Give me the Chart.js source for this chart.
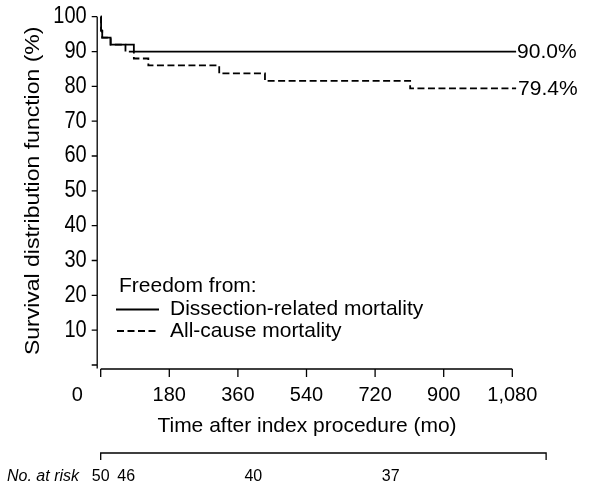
<!DOCTYPE html>
<html>
<head>
<meta charset="utf-8">
<script src="https://cdn.jsdelivr.net/npm/chart.js@4.4.1/dist/chart.umd.min.js"></script>
<style>
  html, body { margin: 0; padding: 0; background: #fff; }
  #wrap { position: relative; width: 592px; height: 487px; }
</style>
</head>
<body>
<div id="wrap"><canvas id="km"></canvas></div>
<script>
// ---- data ----
const dissectionTimes = [0, 1, 4, 26, 87, 1090];
const dissectionSurv  = [100, 96, 94, 92, 90, 90];
const allCauseTimes   = [0, 1, 4, 26, 65, 87, 125, 311, 431, 812, 1090];
const allCauseSurv    = [100, 96, 94, 92, 90, 88, 86, 83.7, 81.6, 79.4, 79.4];
const endLabels       = ["90.0%", "79.4%"];

const xTicks      = [0, 180, 360, 540, 720, 900, 1080];
const xTickLabels = ["0", "180", "360", "540", "720", "900", "1,080"];
const yTicks      = [0, 10, 20, 30, 40, 50, 60, 70, 80, 90, 100];
const yTickLabels = ["", "10", "20", "30", "40", "50", "60", "70", "80", "90", "100"];

const riskTimes  = [0, 62, 370, 703];
const riskCounts = ["50", "46", "40", "37"];

const legendTitle  = "Freedom from:";
const seriesNames  = ["Dissection-related mortality", "All-cause mortality"];
const xTitle = "Time after index procedure (mo)";
const yTitle = "Survival distribution function (%)";

const FONT = '"Liberation Sans", Arial, sans-serif';
const DASH = [7, 3.5];

const toPoints = (ts, vs) => ts.map((t, i) => ({ x: t, y: vs[i] }));

// ---- axes, legend, labels, at-risk row ----
const decorations = {
  id: "decorations",
  afterDraw(chart) {
    const ctx = chart.ctx;
    const xs = chart.scales.x;
    const ys = chart.scales.y;
    const xr = chart.scales.xr;
    const area = chart.chartArea;

    ctx.save();
    ctx.strokeStyle = "#000";
    ctx.fillStyle = "#000";
    ctx.lineWidth = 1.3;

    // y axis (offset a little left of x=0)
    const yAxisX = area.left - 3.5;
    ctx.beginPath();
    ctx.moveTo(yAxisX, ys.getPixelForValue(100));
    ctx.lineTo(yAxisX, ys.getPixelForValue(0) + 3.5);
    yTicks.forEach(v => {
      const py = ys.getPixelForValue(v);
      ctx.moveTo(yAxisX - 5.5, py);
      ctx.lineTo(yAxisX, py);
    });
    ctx.stroke();

    ctx.font = "20px " + FONT;
    ctx.textAlign = "right";
    ctx.textBaseline = "middle";
    yTicks.forEach((v, i) => {
      ctx.save();
      ctx.translate(yAxisX - 10.5, ys.getPixelForValue(v));
      ctx.scale(1, 1.15);
      ctx.fillText(yTickLabels[i], 0, 0);
      ctx.restore();
    });

    // x axis (offset a little below y=0)
    const xAxisY = area.bottom + 4;
    ctx.beginPath();
    ctx.moveTo(xs.getPixelForValue(0), xAxisY);
    ctx.lineTo(xs.getPixelForValue(1080), xAxisY);
    xTicks.forEach(v => {
      const px = xs.getPixelForValue(v);
      ctx.moveTo(px, xAxisY);
      ctx.lineTo(px, xAxisY + 8);
    });
    ctx.stroke();

    ctx.textAlign = "center";
    ctx.textBaseline = "alphabetic";
    xTicks.forEach((v, i) => {
      const shift = v === 0 ? -23.5 : 0;
      ctx.fillText(xTickLabels[i], xs.getPixelForValue(v) + shift, xAxisY + 32);
    });

    // axis titles
    ctx.font = "21px " + FONT;
    ctx.fillText(xTitle, (xs.getPixelForValue(0) + xs.getPixelForValue(1080)) / 2 + 0.5, xAxisY + 63);

    ctx.save();
    ctx.translate(38.5, (ys.getPixelForValue(100) + ys.getPixelForValue(0)) / 2);
    ctx.rotate(-Math.PI / 2);
    ctx.scale(1.15, 1);
    ctx.font = "20px " + FONT;
    ctx.fillText(yTitle, 0, 0);
    ctx.restore();

    // end-of-curve labels
    ctx.font = "21px " + FONT;
    ctx.textAlign = "left";
    ctx.textBaseline = "middle";
    const lastD = dissectionTimes.length - 1;
    const lastA = allCauseTimes.length - 1;
    ctx.fillText(endLabels[0], xs.getPixelForValue(dissectionTimes[lastD]) + 1, ys.getPixelForValue(dissectionSurv[lastD]) + 1);
    ctx.fillText(endLabels[1], xs.getPixelForValue(allCauseTimes[lastA]) + 2, ys.getPixelForValue(allCauseSurv[lastA]) + 1);

    // legend
    ctx.fillText(legendTitle, 119, 286);
    ctx.lineWidth = 1.8;
    ctx.beginPath();
    ctx.moveTo(116, 309.5);
    ctx.lineTo(159, 309.5);
    ctx.stroke();
    ctx.setLineDash(DASH);
    ctx.beginPath();
    ctx.moveTo(117, 331);
    ctx.lineTo(159, 331);
    ctx.stroke();
    ctx.setLineDash([]);
    ctx.fillText(seriesNames[0], 170, 309.5);
    ctx.fillText(seriesNames[1], 170, 331);

    // number at risk
    ctx.lineWidth = 1.3;
    const bl = xr.getPixelForValue(0);
    const br = xr.getPixelForValue(1080);
    const by = xAxisY + 84;
    ctx.beginPath();
    ctx.moveTo(bl, by + 7);
    ctx.lineTo(bl, by);
    ctx.lineTo(br, by);
    ctx.lineTo(br, by + 7);
    ctx.stroke();

    ctx.textBaseline = "alphabetic";
    ctx.font = "italic 16px " + FONT;
    ctx.textAlign = "left";
    ctx.fillText("No. at risk", 7, by + 27.5);
    ctx.font = "16px " + FONT;
    ctx.textAlign = "center";
    riskTimes.forEach((t, i) => {
      ctx.fillText(riskCounts[i], xr.getPixelForValue(t), by + 27.5);
    });

    ctx.restore();
  }
};

new Chart(document.getElementById("km"), {
  type: "line",
  data: {
    datasets: [
      {
        label: seriesNames[0],
        data: toPoints(dissectionTimes, dissectionSurv),
        borderColor: "#000",
        borderWidth: 1.8,
        pointRadius: 0,
        stepped: "before",
        fill: false,
        clip: false
      },
      {
        label: seriesNames[1],
        data: toPoints(allCauseTimes, allCauseSurv),
        borderColor: "#000",
        borderWidth: 1.8,
        borderDash: DASH,
        pointRadius: 0,
        stepped: "before",
        fill: false,
        clip: false
      }
    ]
  },
  options: {
    responsive: true,
    maintainAspectRatio: false,
    animation: false,
    events: [],
    layout: { padding: { left: 100.7, right: 79.7, top: 16.7, bottom: 122 } },
    plugins: {
      legend: { display: false },
      tooltip: { enabled: false }
    },
    scales: {
      x: { type: "linear", min: 0, max: 1080, display: false },
      y: { type: "linear", min: 0, max: 100, display: false },
      // at-risk row uses a slightly wider axis than the plot
      xr: { type: "linear", axis: "x", min: 0, max: 998, display: false }
    }
  },
  plugins: [decorations]
});
</script>
</body>
</html>
